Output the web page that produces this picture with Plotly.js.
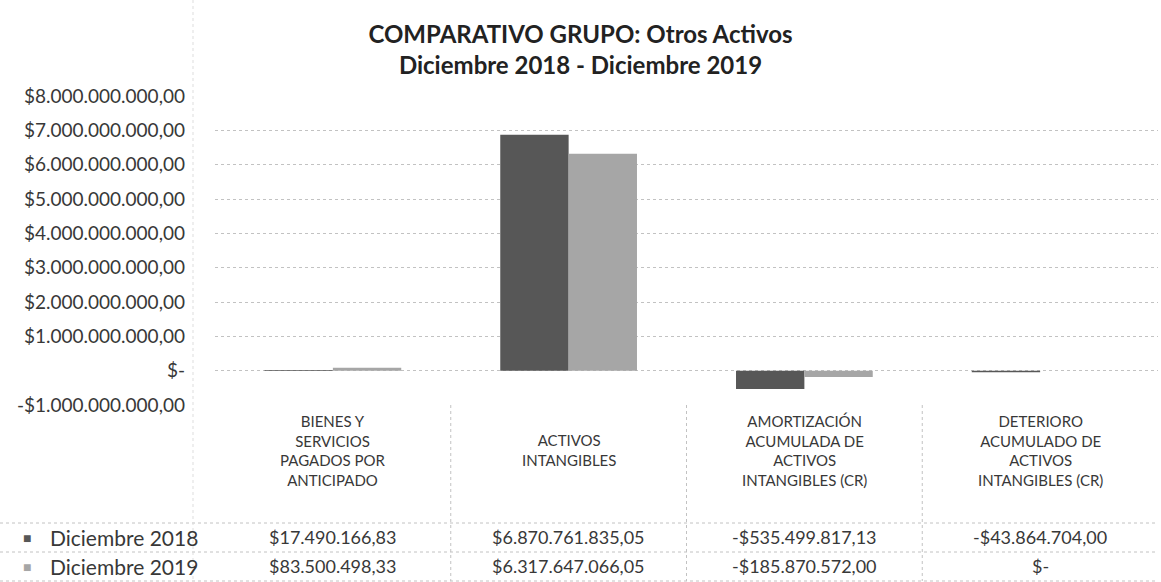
<!DOCTYPE html>
<html>
<head>
<meta charset="utf-8">
<script src="https://cdn.plot.ly/plotly-3.0.1.min.js"></script>
<style>html,body{margin:0;padding:0;background:#fff;}#chart{width:1161px;height:582px;}</style>
</head>
<body>
<div id="chart"></div>
<script>
// ---- data ----
const categories = [
  "BIENES Y<br>SERVICIOS<br>PAGADOS POR<br>ANTICIPADO",
  "ACTIVOS<br>INTANGIBLES",
  "AMORTIZACIÓN<br>ACUMULADA DE<br>ACTIVOS<br>INTANGIBLES (CR)",
  "DETERIORO<br>ACUMULADO DE<br>ACTIVOS<br>INTANGIBLES (CR)"
];
const seriesNames = ["Diciembre 2018", "Diciembre 2019"];
const values2018 = [17490166.83, 6870761835.05, -535499817.13, -43864704.00];
const values2019 = [83500498.33, 6317647066.05, -185870572.00, 0];
const yTicks = [-1e9, 0, 1e9, 2e9, 3e9, 4e9, 5e9, 6e9, 7e9, 8e9];
const titleText = "COMPARATIVO GRUPO: Otros Activos<br>Diciembre 2018 - Diciembre 2019";

// ---- style ----
const colors = ["#575757", "#a6a6a6"];
const FONT = "Lato, 'Open Sans', sans-serif";
const TXT = "#383838";
const W = 1161, H = 582;
const mL = 215, mR = 3, mT = 96, mB = 177;
const plotW = W - mL - mR, plotH = H - mT - mB;
const plotBottom = H - mB;
const py = p => (plotBottom - p) / plotH;   // pixel -> paper y
const px = p => (p - mL) / plotW;           // pixel -> paper x

function fmt(v) {
  if (v === 0) return "$-";
  const sign = v < 0 ? "-" : "";
  const parts = Math.abs(v).toFixed(2).split(".");
  const intPart = parts[0].replace(/\B(?=(\d{3})+(?!\d))/g, ".");
  return sign + "$" + intPart + "," + parts[1];
}

const xIdx = categories.map((c, i) => i);
const allSeries = [values2018, values2019];

const traces = allSeries.map((vals, k) => ({
  type: "bar",
  x: xIdx,
  y: vals,
  name: seriesNames[k],
  marker: {color: colors[k], line: {width: 0}},
  hoverinfo: "skip",
  showlegend: false
}));

const annotations = [];
// category headers
categories.forEach((c, i) => {
  annotations.push({xref: "x", yref: "paper", x: i, y: py(450), text: c, showarrow: false,
    xanchor: "center", yanchor: "middle", align: "center",
    font: {family: FONT, size: 15, color: TXT}});
});
// data rows
const rowY = [537, 566];
allSeries.forEach((vals, k) => {
  annotations.push({xref: "paper", yref: "paper", x: px(27), y: py(rowY[k]),
    text: "■", showarrow: false, xanchor: "center", yanchor: "middle",
    font: {family: FONT, size: 14, color: colors[k]}});
  annotations.push({xref: "paper", yref: "paper", x: px(200), y: py(rowY[k]),
    text: seriesNames[k], showarrow: false, xanchor: "right", yanchor: "middle",
    font: {family: FONT, size: 21, color: TXT}});
  vals.forEach((v, i) => {
    annotations.push({xref: "x", yref: "paper", x: i, y: py(rowY[k]), text: fmt(v),
      showarrow: false, xanchor: "center", yanchor: "middle",
      font: {family: FONT, size: 18, color: TXT}});
  });
});

const gridLine = {color: "#c2c2c2", width: 1, dash: "dot"};
const shapes = [];
// table horizontal lines
[523, 552, 581].forEach(p => {
  shapes.push({type: "line", xref: "paper", yref: "paper", x0: px(0), x1: 1, y0: py(p), y1: py(p), line: gridLine});
});
// table vertical lines (category boundaries)
for (let i = 0; i < categories.length - 1; i++) {
  shapes.push({type: "line", xref: "x", yref: "paper", x0: i + 0.5, x1: i + 0.5, y0: 0, y1: py(581), line: gridLine});
}
// faint left border of table/axis area
shapes.push({type: "line", xref: "paper", yref: "paper", x0: px(193), x1: px(193), y0: py(0), y1: py(581),
  line: {color: "#dddddd", width: 1, dash: "dot"}});

const layout = {
  width: W, height: H,
  margin: {l: mL, r: mR, t: mT, b: mB},
  paper_bgcolor: "#fff", plot_bgcolor: "#fff",
  title: {text: titleText, x: 0.5, xref: "container", xanchor: "center",
    y: 1 - 43 / H, yref: "container", yanchor: "middle",
    font: {family: FONT, size: 24, color: "#222222", weight: "bold"}},
  barmode: "group",
  bargap: 0.42,
  bargroupgap: 0,
  xaxis: {range: [-0.5, categories.length - 0.5], showticklabels: false, showgrid: false,
    zeroline: false, showline: false, ticks: "", fixedrange: true},
  yaxis: {range: [-1e9, 8e9], tickvals: yTicks, ticktext: yTicks.map(fmt),
    showgrid: true, gridcolor: "#c2c2c2", griddash: "dot", gridwidth: 1,
    zeroline: false, showline: false, ticks: "", ticklabelstandoff: 29,
    tickfont: {family: FONT, size: 19, color: TXT}, fixedrange: true},
  annotations: annotations,
  shapes: shapes,
  showlegend: false
};

Plotly.newPlot("chart", traces, layout, {displayModeBar: false, staticPlot: true});
</script>
</body>
</html>
